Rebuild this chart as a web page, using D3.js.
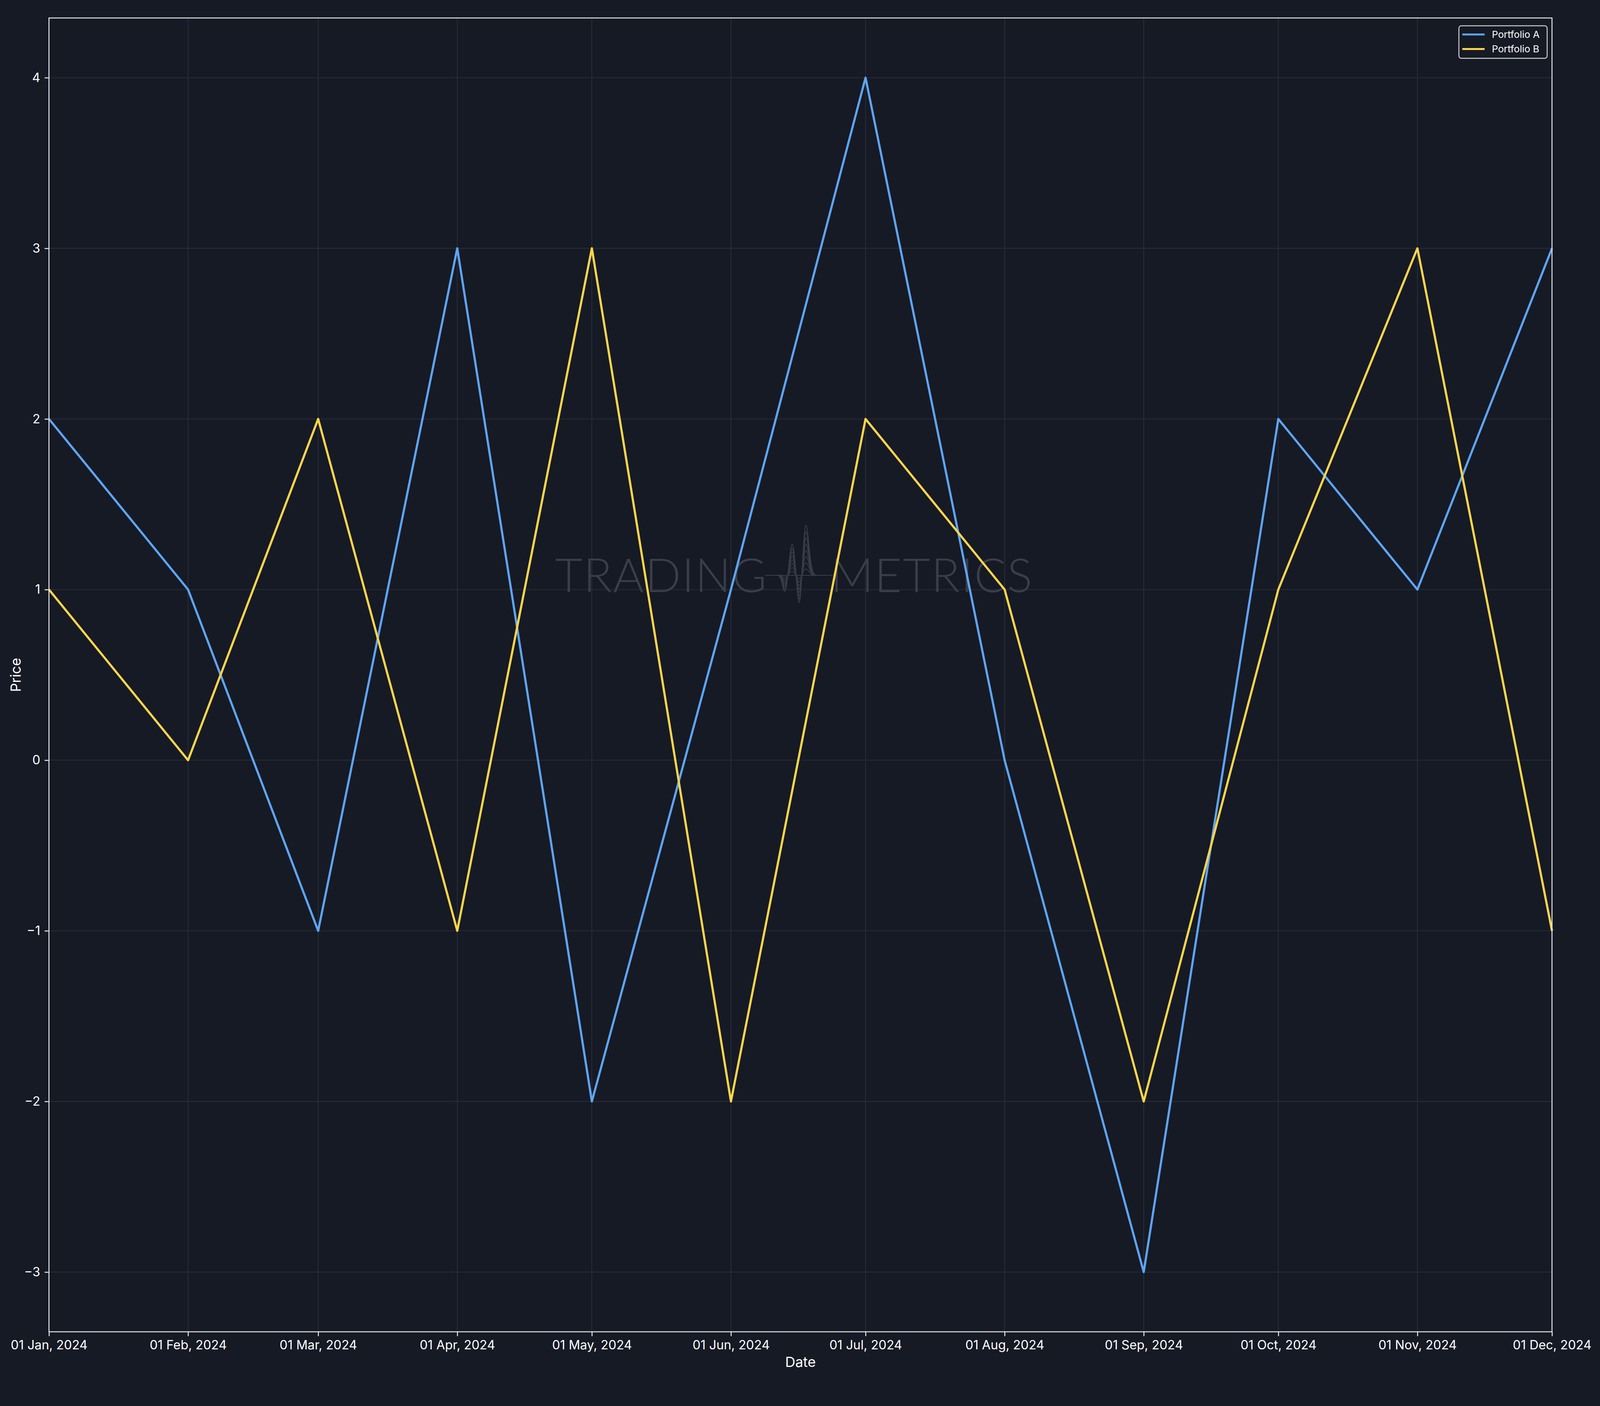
<!DOCTYPE html>
<html>
<head>
<meta charset='utf-8'>
<script src='https://cdn.jsdelivr.net/npm/d3@7'></script>
<style>
  html, body { margin: 0; padding: 0; background: #161a25; overflow: hidden; }
  svg { display: block; }
</style>
</head>
<body>
<svg></svg>
<script>
const months = ['2024-01-01','2024-02-01','2024-03-01','2024-04-01','2024-05-01','2024-06-01',
  '2024-07-01','2024-08-01','2024-09-01','2024-10-01','2024-11-01','2024-12-01']
const portfolioA = [2, 1, -1, 3, -2, 1, 4, 0, -3, 2, 1, 3]
const portfolioB = [1, 0, 2, -1, 3, -2, 2, 1, -2, 1, 3, -1]
const yTicks = [-3, -2, -1, 0, 1, 2, 3, 4]
const seriesNames = ['Portfolio A', 'Portfolio B']
const seriesColors = ['#5ea5f6', '#fdd64b']

const dates = months.map(d3.utcParse('%Y-%m-%d'))
// fit to whatever the window really is, layout in 6600x3600 units
const W = window.innerWidth || 6600, H = window.innerHeight || 3600
const fx = W / 6600, fy = H / 3600, fs = Math.min(fx, fy)
const svg = d3.select('svg').attr('width', W).attr('height', H)
const m = { left: 202 * fx, right: 198 * fx, top: 46 * fy, bottom: 190 * fy }
svg.append('rect').attr('width', W).attr('height', H).attr('fill', '#161a25')

const x = d3.scaleUtc().domain(d3.extent(dates)).range([m.left, W - m.right])
const y = d3.scaleLinear().domain([-3.35, 4.35]).range([H - m.bottom, m.top])

// grid
const grid = svg.append('g').attr('stroke', '#2a2f3a').attr('stroke-width', 3 * fs)
grid.selectAll('.gx').data(dates).join('line')
  .attr('x1', d => x(d)).attr('x2', d => x(d)).attr('y1', m.top).attr('y2', H - m.bottom)
grid.selectAll('.gy').data(yTicks).join('line')
  .attr('y1', d => y(d)).attr('y2', d => y(d)).attr('x1', m.left).attr('x2', W - m.right)

// watermark
const wm = svg.append('g').attr('transform', `translate(${3296 * fx},${1473 * fy}) scale(${fs})`).attr('fill', '#3a3e48')
wm.append('text').attr('x', -130).attr('y', 70).attr('text-anchor', 'end')
  .attr('font-family', 'Lato').attr('font-weight', 300).attr('font-size', 195).attr('letter-spacing', 4).text('TRADING')
wm.append('text').attr('x', 130).attr('y', 70).attr('text-anchor', 'start')
  .attr('font-family', 'Lato').attr('font-weight', 300).attr('font-size', 195).attr('letter-spacing', 4).text('METRICS')
const wave = wm.append('g').attr('fill', 'none').attr('stroke', '#3a3e48').attr('stroke-width', 3)
wave.append('line').attr('x1', -140).attr('x2', 140).attr('y1', 0).attr('y2', 0)
for (let k = 1; k <= 8; k++) {
  const a = k / 8
  const pts = d3.range(-120, 121, 2).map(t => {
    const g1 = Math.exp(-Math.pow((t + 28) / 16, 2)), g2 = Math.exp(-Math.pow((t - 28) / 18, 2))
    const g3 = Math.exp(-Math.pow((t + 58) / 14, 2)), g4 = Math.exp(-Math.pow((t - 2) / 14, 2))
    return [t, -a * (130 * g1 + 210 * g2 - 70 * g3 - 140 * g4)]
  })
  wave.append('path').attr('d', d3.line()(pts))
}

// lines
const line = d3.line().x((d, i) => x(dates[i])).y(d => y(d))
;[portfolioA, portfolioB].forEach((s, i) => {
  svg.append('path').datum(s).attr('d', line).attr('fill', 'none')
    .attr('stroke', seriesColors[i]).attr('stroke-width', 9 * fs).attr('stroke-linejoin', 'round')
})

// frame
svg.append('rect').attr('x', m.left).attr('y', m.top).attr('width', W - m.left - m.right)
  .attr('height', H - m.top - m.bottom).attr('fill', 'none').attr('stroke', '#e8e8e8').attr('stroke-width', 4 * fs)

// axes
const fmt = d3.utcFormat('%d %b, %Y')
const xAxis = svg.append('g').attr('transform', `translate(0,${H - m.bottom})`)
  .call(d3.axisBottom(x).tickValues(dates).tickFormat(fmt).tickSize(18 * fs).tickPadding(18 * fs))
const yAxis = svg.append('g').attr('transform', `translate(${m.left},0)`)
  .call(d3.axisLeft(y).tickValues(yTicks).tickFormat(d => d < 0 ? '\u2212' + Math.abs(d) : d).tickSize(18 * fs).tickPadding(18 * fs))
;[xAxis, yAxis].forEach(a => {
  a.select('.domain').remove()
  a.selectAll('line').attr('stroke', '#e8e8e8').attr('stroke-width', 4 * fs)
  a.selectAll('text').attr('fill', '#ffffff').attr('font-family', 'Inter, sans-serif').attr('font-size', 52 * fs)
})

svg.append('text').attr('x', (m.left + W - m.right) / 2).attr('y', H - m.bottom + 145 * fs).attr('text-anchor', 'middle')
  .attr('fill', '#fff').attr('font-family', 'Inter').attr('font-size', 58 * fs).text('Date')
svg.append('text').attr('transform', `translate(${85 * fx},${y(0.5)}) rotate(-90)`).attr('text-anchor', 'middle')
  .attr('fill', '#fff').attr('font-family', 'Inter').attr('font-size', 58 * fs).text('Price')

// legend
const lg = svg.append('g').attr('transform', `translate(${W - m.right - 20 * fx},${m.top + 20 * fy}) scale(${fs})`)
lg.append('rect').attr('x', -364).attr('width', 364).attr('height', 134).attr('rx', 10)
  .attr('fill', '#161a25').attr('stroke', '#cccccc').attr('stroke-width', 4)
seriesNames.forEach((n, i) => {
  const yy = 36 + i * 60
  lg.append('line').attr('x1', -350).attr('x2', -258).attr('y1', yy).attr('y2', yy)
    .attr('stroke', seriesColors[i]).attr('stroke-width', 8)
  lg.append('text').attr('x', -228).attr('y', yy + 14).attr('fill', '#fff')
    .attr('font-family', 'Inter').attr('font-size', 40).text(n)
})
</script>
</body>
</html>
